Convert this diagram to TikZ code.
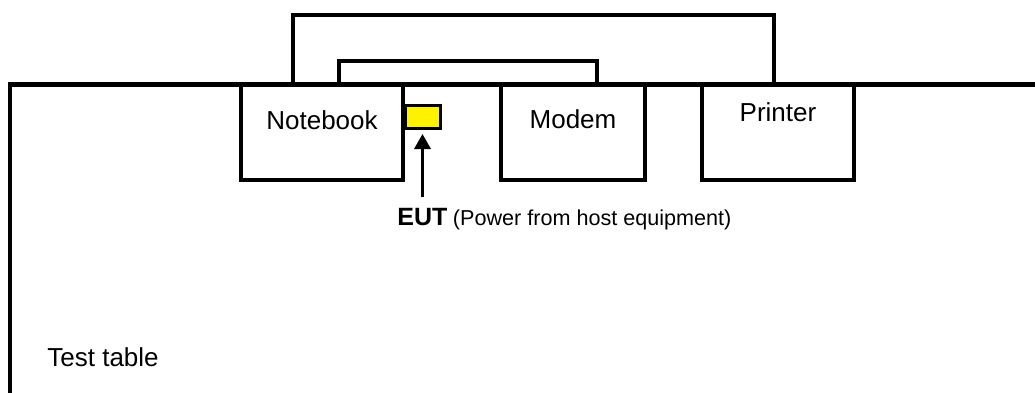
\documentclass[tikz,border=0pt]{standalone}
\usepackage{fontspec}
\setmainfont{Liberation Sans}
\usetikzlibrary{arrows.meta, positioning, calc}

\begin{document}
\begin{tikzpicture}[x=0.5pt, y=0.5pt,
    unit/.style={draw, line width=1.6pt, outer sep=0pt, inner sep=0pt, minimum height=47.75pt},
    devlabel/.style={font=\fontsize{13pt}{15pt}\selectfont, inner sep=0pt},
    cable/.style={line width=2pt},
    tabletop/.style={line width=2pt},
    eutbox/.style={draw, fill=yellow, line width=1.5pt, outer sep=0pt, minimum width=17.5pt, minimum height=11.5pt},
    pointer/.style={-{Triangle[length=7.5pt, width=8pt]}, line width=1.6pt, shorten >=3pt}]
    \useasboundingbox (0,0) rectangle (1035,392);

    \node[unit, minimum width=81pt, anchor=north west] (notebook) at (241,307.5) {};
    \node[unit, minimum width=72pt] (modem) [right=49pt of notebook] {};
    \node[unit, minimum width=76pt] (printer) [right=28.5pt of modem] {};

    \node[devlabel] (notebooktext) at ($(notebook.north)+(0,-35.5)$) {Notebook};
    \node[devlabel] (modemtext) at ($(modem.north)+(0,-35)$) {Modem};
    \node[devlabel] (printertext) at ($(printer.north)+(0,-27.5)$) {Printer};

    \node[eutbox] (eut) at (422.5,275.5) {};
    \node[anchor=base west, inner sep=0pt] (eutnote) at (397,167) {{\fontsize{12.5pt}{14pt}\selectfont\bfseries EUT} {\fontsize{10.8pt}{12pt}\selectfont (Power from host equipment)}};
    \node[devlabel, anchor=base west] (tablename) at (47,26) {Test table};

    \draw[pointer] ($(eut.south |- eutnote.north)+(0,10)$) -- (eut.south);

    \draw[cable] ($(notebook.north west)+(52,0)$) |- ($(printer.north west)+(72,69.5)$) -- ($(printer.north west)+(72,0)$);
    \draw[cable] ($(notebook.north west)+(98,0)$) |- ($(modem.north west)+(96,23.5)$) -- ($(modem.north west)+(96,0)$);

    \draw[tabletop] (10,-5) |- (1045,307.5);
\end{tikzpicture}
\end{document}
